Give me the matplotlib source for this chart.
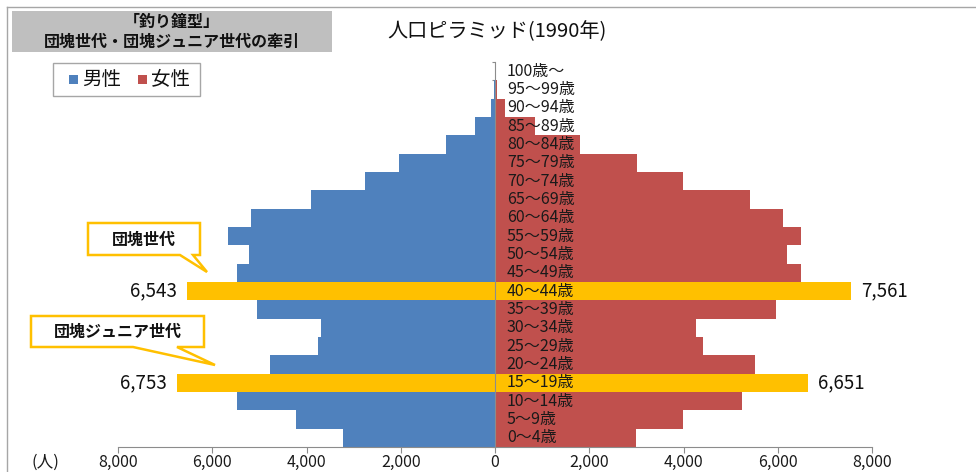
import matplotlib
matplotlib.use('Agg')
import matplotlib.pyplot as plt
from matplotlib.patches import Rectangle, Polygon
from matplotlib.ticker import FuncFormatter

plt.rcParams['font.family'] = ['Noto Sans CJK JP', 'DejaVu Sans']

# Data (bottom -> top)
ages = ['0～4歳', '5～9歳', '10～14歳', '15～19歳', '20～24歳', '25～29歳',
        '30～34歳', '35～39歳', '40～44歳', '45～49歳', '50～54歳', '55～59歳',
        '60～64歳', '65～69歳', '70～74歳', '75～79歳', '80～84歳', '85～89歳',
        '90～94歳', '95～99歳', '100歳～']
male = [3224, 4220, 5472, 6753, 4772, 3754, 3690, 5048, 6543, 5472, 5217,
        5663, 5175, 3902, 2757, 2036, 1039, 424, 85, 15, 2]
female = [2990, 3987, 5239, 6651, 5514, 4411, 4263, 5960, 7561, 6490, 6193,
          6490, 6108, 5408, 3987, 3012, 1803, 848, 212, 40, 5]
highlight = ['40～44歳', '15～19歳']
xticks = [-8000, -6000, -4000, -2000, 0, 2000, 4000, 6000, 8000]

# Colors
BLUE = '#4F81BD'
RED = '#C0504D'
GOLD = '#FFC000'
GRID = '#8C8C8C'

W, H = 976, 472
fig = plt.figure(figsize=(W / 100, H / 100), dpi=100)

ax = fig.add_axes([118 / W, 25 / H, (872 - 118) / W, 385 / H])
ypos = list(range(len(ages)))
mcol = [GOLD if a in highlight else BLUE for a in ages]
fcol = [GOLD if a in highlight else RED for a in ages]
ax.barh(ypos, [-m for m in male], height=1.0, color=mcol, zorder=2)
ax.barh(ypos, female, height=1.0, color=fcol, zorder=2)

ax.set_xlim(-8000, 8000)
ax.set_ylim(-0.5, len(ages) - 0.5)

for s in ['top', 'right']:
    ax.spines[s].set_visible(False)
ax.spines['left'].set_position(('data', 0))
ax.spines['left'].set_color(GRID)
ax.spines['left'].set_zorder(3)
ax.spines['bottom'].set_color(GRID)

ax.set_xticks(xticks)
ax.xaxis.set_major_formatter(FuncFormatter(lambda v, p: f'{abs(int(v)):,}'))
ax.tick_params(axis='x', direction='out', length=4, color=GRID, labelsize=11.5,
               labelcolor='#1a1a1a', pad=1)
ax.set_yticks([i - 0.5 for i in range(len(ages) + 1)])
ax.set_yticklabels([])
ax.tick_params(axis='y', direction='out', length=2.5, color=GRID)

# age labels in the middle
for i, a in enumerate(ages):
    ax.text(250, i, a, ha='left', va='center', fontsize=11.5, color='#1a1a1a',
            zorder=4)

# value labels for highlighted rows
for i, a in enumerate(ages):
    if a in highlight:
        ax.annotate(f'{male[i]:,}', (-male[i], i), xytext=(-7, 0),
                    textcoords='offset points', ha='right', va='center',
                    fontsize=13.5, color='#111111', annotation_clip=False)
        ax.annotate(f'{female[i]:,}', (female[i], i), xytext=(7, 0),
                    textcoords='offset points', ha='left', va='center',
                    fontsize=13.5, color='#111111', annotation_clip=False)

# overlay in pixel coordinates for decorations
ov = fig.add_axes([0, 0, 1, 1], facecolor='none')
ov.set_xlim(0, W)
ov.set_ylim(H, 0)
ov.axis('off')

# chart area border (top + left visible)
ov.plot([7, W], [7, 7], color='#A6A6A6', lw=1)
ov.plot([7, 7], [7, H], color='#A6A6A6', lw=1)

# grey header box
ov.add_patch(Rectangle((12, 11), 320, 41, facecolor='#BFBFBF', edgecolor='none'))
ov.text(172, 22, '「釣り鐘型」', ha='center', va='center', fontsize=11.5,
        color='#111111', weight='bold')
ov.text(172, 42, '団塊世代・団塊ジュニア世代の牽引', ha='center', va='center',
        fontsize=11.5, color='#111111', weight='bold')

# title
ov.text(497, 32, '人口ピラミッド(1990年)', ha='center', va='center',
        fontsize=14.5, color='#111111')

# legend
ov.add_patch(Rectangle((53, 63), 147, 33, facecolor='white', edgecolor='#A6A6A6',
                       lw=1))
ov.add_patch(Rectangle((69, 75), 9, 9, facecolor=BLUE, edgecolor='none'))
ov.text(82, 79.5, '男性', ha='left', va='center', fontsize=14, color='#111111')
ov.add_patch(Rectangle((138, 75), 9, 9, facecolor=RED, edgecolor='none'))
ov.text(151, 79.5, '女性', ha='left', va='center', fontsize=14, color='#111111')

# callouts
def callout(x0, y0, x1, y1, b0, b1, tip, label):
    pts = [(x0, y0), (x1, y0), (x1, y1), (b1, y1), tip, (b0, y1), (x0, y1)]
    ov.add_patch(Polygon(pts, closed=True, facecolor='white', edgecolor=GOLD,
                         lw=1.8, joinstyle='miter'))
    ov.text((x0 + x1) / 2, (y0 + y1) / 2 + 0.5, label, ha='center',
            va='center', fontsize=11.5, weight='bold', color='#111111')

callout(88, 223, 200, 255, 180, 193, (207, 272), '団塊世代')
callout(31, 316, 204, 347, 133, 177, (215, 365), '団塊ジュニア世代')

# unit
ov.text(45, 462, '(人)', ha='center', va='center', fontsize=12,
        color='#1a1a1a')

fig.savefig('out.png', dpi=100)
